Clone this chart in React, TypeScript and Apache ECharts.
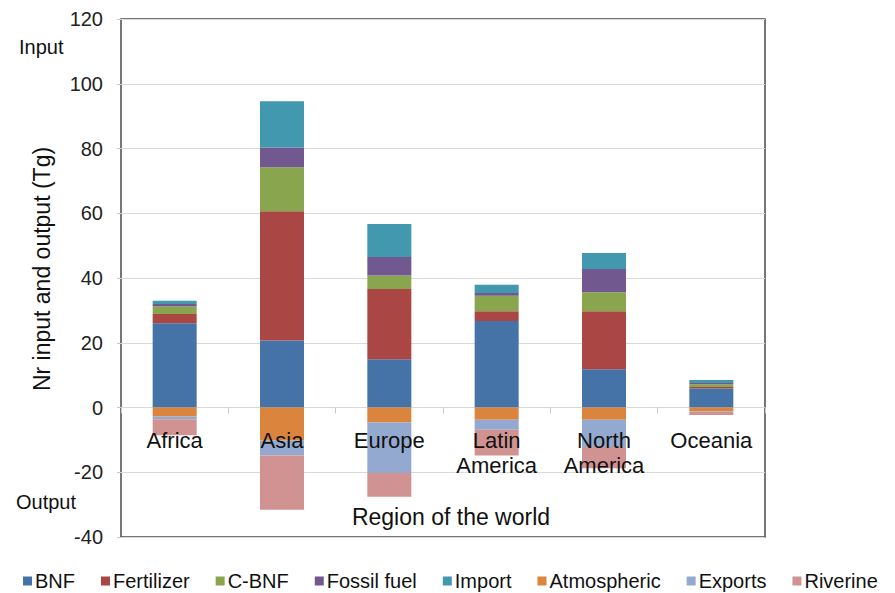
import React, { useEffect, useRef } from "react";
import * as echarts from "echarts";

// Regions along the horizontal axis
const regions = ["Africa", "Asia", "Europe", "Latin\nAmerica", "North\nAmerica", "Oceania"];

// Nr inputs (Tg), stacked upward from zero
const bnf = [26.0, 20.7, 14.9, 26.7, 11.8, 5.9];
const fertilizer = [2.9, 39.9, 21.7, 3.0, 17.9, 0.4];
const cBnf = [2.3, 13.6, 4.2, 4.8, 5.9, 0.9];
const fossilFuel = [0.8, 6.1, 5.7, 0.9, 7.2, 0.4];
const importN = [1.0, 14.3, 10.2, 2.5, 4.9, 0.9];

// Nr outputs (Tg), stacked downward from zero
const atmospheric = [-2.8, -10.2, -4.6, -3.8, -3.8, -1.2];
const exportsN = [-0.8, -4.6, -15.6, -3.1, -8.4, -0.2];
const riverine = [-5.0, -16.8, -7.4, -7.9, -6.6, -0.9];

// Value axis ticks
const yMin = -40;
const yMax = 120;
const yStep = 20;

const seriesDefs = [
  { name: "BNF", data: bnf, color: "#4572A7" },
  { name: "Fertilizer", data: fertilizer, color: "#AA4643" },
  { name: "C-BNF", data: cBnf, color: "#89A54E" },
  { name: "Fossil fuel", data: fossilFuel, color: "#71588F" },
  { name: "Import", data: importN, color: "#4198AF" },
  { name: "Atmospheric", data: atmospheric, color: "#DB843D" },
  { name: "Exports", data: exportsN, color: "#93A9CF" },
  { name: "Riverine", data: riverine, color: "#D19392" },
];

const FONT = "'Liberation Sans', Arial, sans-serif";

const GRID_TOP = 19;
const GRID_HEIGHT = 518;
// shift the category axis up from the bottom edge to the zero line
const zeroOffset = -(GRID_HEIGHT * (0 - yMin)) / (yMax - yMin);

export default function App() {
  const ref = useRef<HTMLDivElement>(null);

  useEffect(() => {
    if (!ref.current) return;
    const chart = echarts.init(ref.current, null, { renderer: "svg" });
    chart.setOption({
      animation: false,
      backgroundColor: "#ffffff",
      textStyle: { fontFamily: FONT },
      grid: {
        left: 121,
        top: GRID_TOP,
        width: 644,
        height: GRID_HEIGHT,
        show: true,
        borderColor: "#4a4a4a",
        borderWidth: 1.5,
        backgroundColor: "transparent",
      },
      legend: {
        top: 566,
        left: 18,
        right: 0,
        itemGap: 26,
        itemWidth: 9,
        itemHeight: 9,
        icon: "rect",
        textStyle: { fontSize: 20, color: "#111", fontFamily: FONT, padding: [0, 0, 0, -2] },
        data: seriesDefs.map((s) => s.name),
      },
      xAxis: {
        type: "category",
        data: regions,
        offset: zeroOffset,
        z: 5,
        axisLine: { show: false, onZero: false },
        axisTick: { show: true, length: 6, lineStyle: { color: "#c8c8c8" } },
        axisLabel: {
          fontSize: 22,
          color: "#111",
          margin: 20,
          lineHeight: 25,
          interval: 0,
        },
      },
      yAxis: {
        type: "value",
        min: yMin,
        max: yMax,
        interval: yStep,
        axisLine: { show: false },
        axisTick: { show: true, length: 4, lineStyle: { color: "#c8c8c8" } },
        axisLabel: { fontSize: 20, color: "#222", margin: 18 },
        splitLine: { lineStyle: { color: "#d9d9d9", width: 1 } },
      },
      graphic: [
        {
          type: "text",
          left: 19,
          top: 37,
          style: { text: "Input", fontSize: 20, fill: "#111", fontFamily: FONT },
        },
        {
          type: "text",
          left: 16,
          top: 492,
          style: { text: "Output", fontSize: 20, fill: "#111", fontFamily: FONT },
        },
        {
          type: "text",
          x: 42,
          y: 269,
          rotation: Math.PI / 2,
          style: {
            text: "Nr input and output (Tg)",
            fontSize: 23,
            fill: "#111",
            fontFamily: FONT,
            align: "center",
            verticalAlign: "middle",
          },
        },
        {
          type: "text",
          x: 451,
          y: 517,
          style: {
            text: "Region of the world",
            fontSize: 23,
            fill: "#111",
            fontFamily: FONT,
            align: "center",
            verticalAlign: "middle",
          },
        },
      ],
      series: seriesDefs.map((s) => ({
        name: s.name,
        type: "bar",
        stack: "nr",
        data: s.data,
        barWidth: 44,
        itemStyle: { color: s.color },
      })),
    });
    return () => chart.dispose();
  }, []);

  return (
    <div
      ref={ref}
      style={{ position: "fixed", left: 0, top: 0, width: 895, height: 593 }}
    />
  );
}
